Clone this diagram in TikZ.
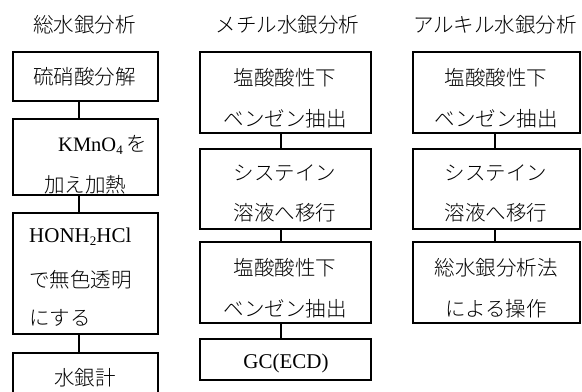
\documentclass[tikz,border=0pt]{standalone}
\usepackage{fontspec}
\setmainfont{Liberation Serif}
\newfontfamily\cjk{Noto Sans CJK JP}[UprightFont={* Light}]
\newfontfamily\lat{Liberation Serif}
\begin{document}
\begin{tikzpicture}[x=1bp,y=-1bp,
  box/.style={draw, line width=1.2bp, minimum width=#1, inner sep=0pt},
  txt/.style={inner sep=0pt, font=\fontsize{20.5bp}{20.5bp}\selectfont\cjk},
  ltxt/.style={inner sep=0pt, font=\fontsize{21bp}{21bp}\selectfont\lat},
  conn/.style={line width=1.2bp}]
\useasboundingbox (0,0) rectangle (582,391);
\clip (0,0) rectangle (582,391);
% titles
\node[txt] (t1) at (84.5,25) {総水銀分析};
\node[txt] (t2) at (287.5,25) {メチル水銀分析};
\node[txt] (t3) at (495,25) {アルキル水銀分析};
% column 1
\node[box=145bp, minimum height=49bp] (a1) at (85.5,76.5) {};
\node[box=145bp, minimum height=76bp] (a2) at (85.5,157) {};
\node[box=145bp, minimum height=121bp] (a3) at (85.5,273.5) {};
\node[box=145bp, minimum height=47bp] (a4) at (85.5,376.5) {};
\node[txt] (a1t) at (84.5,77) {硫硝酸分解};
\node[txt, anchor=west] (a2t) at (58,145) {{\lat KMnO\raisebox{-0.3ex}{\fontsize{13bp}{13bp}\selectfont 4}}\,を};
\node[txt] (a2u) at (85,185) {加え加熱};
\node[ltxt, anchor=west] (a3t) at (29,237) {HONH\raisebox{-0.3ex}{\fontsize{13bp}{13bp}\selectfont 2}HCl};
\node[txt, anchor=west] (a3u) at (29,280) {で無色透明};
\node[txt, anchor=west] (a3v) at (29,318) {にする};
\node[txt] (a4t) at (85,378) {水銀計};
\coordinate (c1) at (79,0);
\draw[conn] (a1.south -| c1) -- (a2.north -| c1);
\draw[conn] (a2.south -| c1) -- (a3.north -| c1);
\draw[conn] (a3.south -| c1) -- (a4.north -| c1);
% column 2
\node[box=171bp, minimum height=81bp] (b1) at (285.5,92.5) {};
\node[box=171bp, minimum height=80bp] (b2) at (285.5,189) {};
\node[box=171bp, minimum height=81bp] (b3) at (285.5,282.5) {};
\node[box=171bp, minimum height=41bp] (b4) at (285.5,359.5) {};
\node[txt] (b1t) at (285,78) {塩酸酸性下};
\node[txt] (b1u) at (285,119) {ベンゼン抽出};
\node[txt] (b2t) at (285,173) {システイン};
\node[txt] (b2u) at (285,213) {溶液へ移行};
\node[txt] (b3t) at (285,268) {塩酸酸性下};
\node[txt] (b3u) at (285,308.5) {ベンゼン抽出};
\node[ltxt] (b4t) at (286,363) {GC(ECD)};
\coordinate (c2) at (281,0);
\draw[conn] (b1.south -| c2) -- (b2.north -| c2);
\draw[conn] (b2.south -| c2) -- (b3.north -| c2);
\draw[conn] (b3.south -| c2) -- (b4.north -| c2);
% column 3
\node[box=167bp, minimum height=81bp] (d1) at (496.5,92.5) {};
\node[box=167bp, minimum height=80bp] (d2) at (496.5,189) {};
\node[box=167bp, minimum height=81bp] (d3) at (496.5,282.5) {};
\node[txt] (d1t) at (496,78) {塩酸酸性下};
\node[txt] (d1u) at (496,119) {ベンゼン抽出};
\node[txt] (d2t) at (496,173) {システイン};
\node[txt] (d2u) at (496,213) {溶液へ移行};
\node[txt] (d3t) at (496,268) {総水銀分析法};
\node[txt] (d3u) at (496,308.5) {による操作};
\coordinate (c3) at (495,0);
\draw[conn] (d1.south -| c3) -- (d2.north -| c3);
\draw[conn] (d2.south -| c3) -- (d3.north -| c3);
\end{tikzpicture}
\end{document}
